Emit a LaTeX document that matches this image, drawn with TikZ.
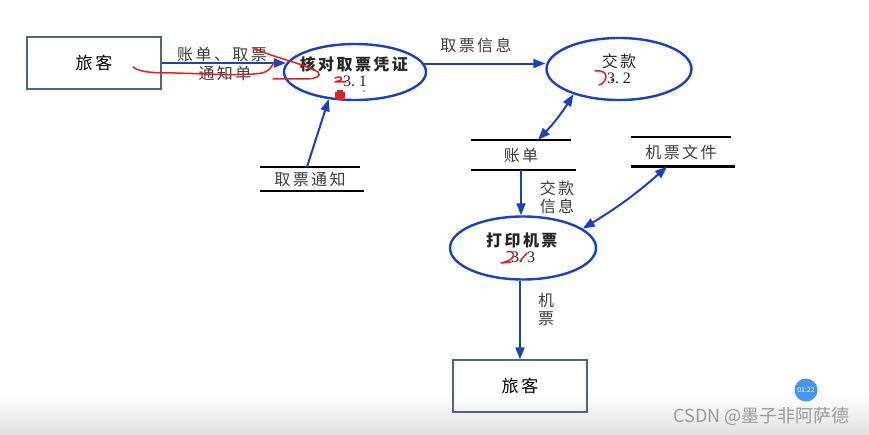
\documentclass[tikz,border=0pt]{standalone}
\usepackage{fontspec}
\setmainfont{Noto Sans CJK SC}[LetterSpace=15]
\newfontfamily\numfont{Liberation Serif}
\newfontfamily\wmfont{Noto Sans CJK SC}
\usetikzlibrary{arrows.meta,shapes.geometric,calc}
\definecolor{dfdblue}{RGB}{25,65,195}
\definecolor{boxgray}{RGB}{80,100,140}
\definecolor{txtgray}{RGB}{60,60,60}
\definecolor{penred}{RGB}{230,30,30}
\definecolor{badge}{RGB}{70,150,245}
\newcommand{\procnum}[1]{{\numfont\fontsize{16}{18}\selectfont #1}}
\tikzset{
  entity/.style={draw=boxgray, line width=1.3pt, minimum width=134pt, minimum height=52pt, inner sep=0pt, font=\fontsize{17}{20}\selectfont, text=black},
  proc/.style={ellipse, draw=dfdblue, line width=2.4pt, inner xsep=-14pt, inner ysep=-4pt, align=center, text=black!85, font=\fontsize{16}{18}\selectfont},
  store/.style={inner sep=0pt, font=\fontsize{16}{18}\selectfont, text=txtgray},
  storeline/.style={line width=2.4pt, black},
  flow/.style={dfdblue, line width=2pt, -{Triangle[length=12pt,width=9pt]}},
  biflow/.style={dfdblue, line width=2pt, {Triangle[length=12pt,width=9pt]}-{Triangle[length=12pt,width=9pt]}},
  lbl/.style={inner sep=0pt, font=\fontsize{16}{18}\selectfont, text=txtgray, align=center},
  pen/.style={penred, line width=1.5pt, line cap=round, line join=round},
}
\begin{document}
\begin{tikzpicture}[x=1pt,y=-1pt]
\useasboundingbox (0,0) rectangle (869,435);
\fill[white] (0,0) rectangle (869,435);
\shade[top color=white, bottom color=black!12] (0,395) rectangle (869,435);

% external entities
\node[entity] (p1) at (94,63) {旅客};
\node[entity] (p2) at (520,386) {旅客};

% processes
\node[proc, minimum width=142pt, minimum height=56pt] (e1) at (355,72)
  {\textbf{核对取票凭证}\\[-2pt]\procnum{3.\hspace{4pt}1}};
\node[proc, minimum width=145pt, minimum height=62pt] (e2) at (619,69)
  {交款\\[-2pt]\procnum{3.\hspace{4pt}2}};
\node[proc, minimum width=146pt, minimum height=63pt] (e3) at (523,248)
  {\textbf{打印机票}\\[-2pt]\procnum{3.\hspace{4pt}3}};

% data stores
\node[store, minimum width=100pt, minimum height=24pt] (s1) at (310,179) {取票通知};
\draw[storeline] (s1.north west) -- (s1.north east);
\draw[storeline] (s1.south west) -- ([xshift=4pt]s1.south east);
\node[store, minimum width=100pt, minimum height=30pt] (s2) at (521,155) {账单};
\draw[storeline] (s2.north west) -- (s2.north east);
\draw[storeline] (s2.south west) -- ([xshift=5pt]s2.south east);
\node[store, minimum width=100pt, minimum height=29pt] (s3) at (681,152) {机票文件};
\draw[storeline] (s3.north west) -- (s3.north east);
\draw[storeline] (s3.south west) -- ([xshift=4pt]s3.south east);

% flows
\draw[flow] (p1.east) -- (p1.east -| e1.173);
\node[lbl] (l1) at (222,54) {账单、取票};
\node[lbl] (l2) at (225,73) {通知单};
\draw[flow] ([xshift=-3pt]s1.north) -- (e1.226);
\draw[flow] (e1.7) -- (e1.7 -| e2.west);
\node[lbl] (l3) at (476,45) {取票信息};
\draw[biflow] (e2.209) to[bend left=6] ([xshift=17pt]s2.north);
\draw[flow] (s2.south) -- (s2.south |- e3.north);
\node[lbl] (l4) at (557,197) {交款\\信息};
\draw[biflow] ([xshift=-14pt]s3.south) to[bend left=5] (e3.18);
\draw[flow] (p2.north |- e3.south) -- (p2.north);
\node[lbl] (l5) at (546,309) {机\\票};

% red pen annotations
\draw[pen] (133,67) .. controls (140,72) and (150,73) .. (175,73)
  .. controls (210,74) and (245,76) .. (262,73)
  .. controls (270,71) and (272,66) .. (274,62);
\draw[pen] (253,48) .. controls (275,58) and (305,64) .. (318,72)
  .. controls (322,76) and (316,79) .. (305,79) -- (273,79);
\draw[pen] (335,78) .. controls (339,76) and (343,77) .. (341,80) -- (335,82) -- (346,82);
\fill[penred] (337,90) rectangle (343,100);
\fill[penred] (335,92) rectangle (345,98);
\fill[penred] (364,91) circle (0.8pt);
\draw[pen] (595,71) .. controls (600,70) and (606,72) .. (606,76)
  .. controls (606,80) and (603,84) .. (599,85);
\fill[penred] (612,80) circle (1.5pt);
\draw[pen] (507,252) .. controls (511,250) and (515,253) .. (513,257)
  .. controls (510,261) and (505,262) .. (501,263) -- (511,262);
\draw[pen] (520,261) -- (527,253);

% recording badge and watermark
\fill[badge] (806,390) circle (11.5pt);
\node[text=white, font=\wmfont\fontsize{7}{8}\selectfont] (bt) at (806,390) {01:22};
\node[text=black!40, font=\wmfont\fontsize{18}{20}\selectfont, anchor=east] (wm) at (853,416) {CSDN @墨子非阿萨德};
\end{tikzpicture}
\end{document}
